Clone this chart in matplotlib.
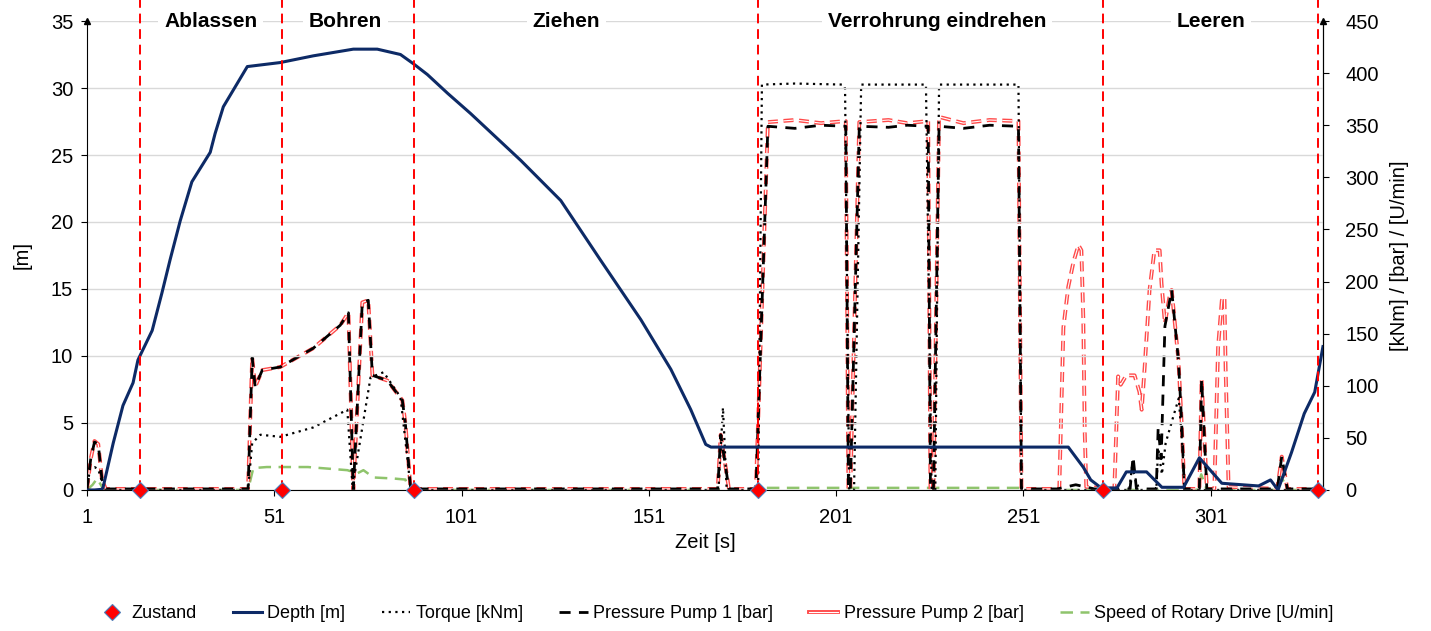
import matplotlib
matplotlib.use("Agg")
import matplotlib.pyplot as plt
import matplotlib.patheffects as pe
from matplotlib.lines import Line2D
import matplotlib.transforms as mtransforms

# --- data ---
phases = ["Ablassen", "Bohren", "Ziehen", "Verrohrung eindrehen", "Leeren"]
zustand_t = [15.2, 53.1, 88.4, 180.1, 272.4, 329.6]

depth_t = [1, 3, 5, 5.3, 8, 10.6, 13.3, 14.6, 18.4, 21, 23.2, 25.9, 29, 33.9, 35.2, 37.4,
           40.6, 43.8, 52.6, 61.4, 72.1, 78.5, 84.7, 88.2, 91.9, 97.3, 103.4, 116.8, 127.5,
           138, 148.9, 156.9, 162.2, 166.2, 167.6, 263, 267, 269, 271.8, 276, 278.5, 283.9,
           288, 293.8, 298, 304, 313.8, 317, 319, 322.6, 326, 328.8, 331]
depth_m = [0, 0, 0.05, 0.2, 3.5, 6.3, 8.0, 9.7, 11.9, 14.7, 17.2, 20.1, 23.0, 25.2, 26.6, 28.6,
           30.1, 31.6, 31.9, 32.4, 32.9, 32.9, 32.5, 31.8, 31.0, 29.6, 28.1, 24.6, 21.6,
           17.2, 12.7, 9.0, 6.0, 3.4, 3.2, 3.2, 1.7, 0.75, 0.15, 0.15, 1.35, 1.35,
           0.2, 0.2, 2.4, 0.5, 0.3, 0.75, 0, 2.8, 5.7, 7.3, 10.7]

torque_t = [1, 1.8, 3, 4, 5, 6, 44, 45.1, 47.3, 52.6, 61.4, 70.5, 71.9, 76.7, 80.2, 84.7,
            86.8, 87.4, 169.6, 170.8, 171.8, 180.2, 181.2, 190, 202.9, 203.4, 204.5, 205.8,
            207.7, 225, 226.5, 227.5, 228.5, 249.7, 250.5, 279.3, 280, 281, 282, 286.5, 287,
            288, 289, 291, 292.5, 293.5, 294, 331]
torque = [0, 21, 22, 20, 8, 0, 0, 45, 53, 51, 60, 77, 3, 108, 113, 89,
          22, 0, 0, 79, 0, 0, 389, 390, 389, 385, 0, 0,
          389, 389, 0, 0, 389, 389, 0, 0, 22, 10, 0, 0, 40,
          15, 45, 70, 88, 40, 0, 0]

pump1_t = [1, 2, 3, 4, 5, 6, 44, 45.1, 45.9, 47.8, 52.6, 61.4, 68.6, 70.8, 72.1, 74.5, 76.1,
           77.2, 81.2, 85.2, 86, 87.4, 169.4, 170.2, 172.4, 179.6, 182.8, 190, 197, 203.6,
           204.3, 204.8, 207.2, 215, 220, 225.6, 226.2, 227, 228.5, 235, 242, 249.7, 250.5,
           260, 265, 270, 279.5, 280.3, 281.2, 286.5, 287, 287.8, 288.8, 290.6, 292.4, 293.2,
           294, 298, 298.6, 300, 318.8, 320, 321.5, 331]
pump1 = [1, 30, 46, 44, 10, 1, 1, 127, 99, 115, 118, 136, 158, 170, 0, 180, 182,
         110, 105, 86, 64, 1, 1, 53, 1, 1, 349, 347, 350, 349,
         0, 0, 349, 348, 350, 349, 0, 0, 349, 347, 350, 349, 1,
         1, 5, 1, 1, 32, 1, 1, 60, 30, 157, 192, 125, 70,
         1, 1, 106, 1, 1, 32, 1, 1]

pump2_t = [1, 2, 3, 4, 5, 6, 44, 45.1, 45.9, 47.8, 52.6, 61.4, 68.6, 70.8, 72.1, 74.5, 76.1,
           77.2, 81.2, 85.2, 86, 87.4, 169.4, 170.2, 172.4, 179.6, 182.8, 190, 197, 203.6,
           204.3, 204.8, 207.2, 215, 220, 225.6, 226.2, 227, 228.5, 235, 242, 249.7, 250.5,
           260.6, 261.7, 263, 264.4, 265.7, 266.5, 267, 267.4, 267.8, 275.3, 276.3, 277,
           278.5, 280.7, 282, 282.6, 283.4, 284.7, 286, 287.4, 287.9, 288.8, 290, 290.6,
           292.4, 293.2, 294, 298, 298.6, 300, 302, 303, 304, 304.7, 305, 305.8, 318.8,
           320, 321.5, 331]
pump2 = [1, 30, 47, 44, 10, 1, 1, 127, 99, 115, 118, 136, 158, 170, 0, 180, 182,
         110, 105, 86, 64, 1, 1, 53, 1, 1, 353, 355, 352, 354,
         0, 0, 353, 355, 352, 354, 0, 0, 358, 352, 355, 354, 1,
         1, 156, 195, 219, 235, 230, 166, 55, 3, 1, 109, 101,
         110, 110, 94, 77, 118, 192, 230, 230, 198, 160, 185, 192,
         125, 70, 1, 1, 106, 1, 1, 137, 182, 185, 118, 3, 1,
         32, 1, 1]

speed_t = [1, 2.5, 3.7, 5, 6, 44, 45.4, 49, 60, 70.5, 73.2, 74.8, 77.5, 82.8, 86, 87, 88,
           180, 181, 250, 251, 297.5, 298.5, 300, 319, 320, 321.5, 331]
speed = [0, 5, 11, 3, 0, 0, 21, 22, 22, 19, 16, 19, 12, 11, 10, 0, 0,
         0, 2, 2, 0, 0, 15, 0, 0, 12, 0, 0]

x_ticks = [1, 51, 101, 151, 201, 251, 301]
label_x = [34, 70, 129, 228, 301]

plt.rcParams['font.family'] = ['Liberation Sans', 'DejaVu Sans']

fig = plt.figure(figsize=(14.31, 6.31), dpi=100)
ax = fig.add_axes([0.0608, 0.2235, 0.8637, 0.7432])
ax2 = ax.twinx()

ax.set_xlim(1, 331)
ax.set_ylim(0, 35)
ax2.set_ylim(0, 450)
ax.set_yticks(range(0, 36, 5))
ax2.set_yticks(range(0, 451, 50))
ax.set_xticks(x_ticks)
ax.grid(axis='y', color='#d9d9d9', lw=1)
ax.set_axisbelow(True)

for a in (ax, ax2):
    a.spines['top'].set_visible(False)
    a.tick_params(labelsize=14.5, length=4, pad=6)
ax2.spines['left'].set_visible(False)
ax2.spines['bottom'].set_visible(False)
ax.tick_params(axis='x', pad=9)
ax2.tick_params(axis='y', pad=12)

red2 = '#ff4a4a'
# right-axis series
ax2.plot(speed_t, speed, color='#8fc46c', lw=1.8, ls=(0, (5, 3)), zorder=2)
ax2.plot(pump2_t, pump2, color='white', lw=0.8, ls=(0, (9, 5)), zorder=3,
         path_effects=[pe.Stroke(linewidth=2.8, foreground=red2), pe.Normal()])
ax2.plot(pump1_t, pump1, color='black', lw=2, ls=(0, (4, 3)), zorder=4)
ax2.plot(torque_t, torque, color='black', lw=1.6, ls=(0, (1, 2)), zorder=4)

# depth on left axis, drawn over the right-axis lines
ax.set_zorder(ax2.get_zorder() + 1)
ax.patch.set_visible(False)
ax.plot(depth_t, depth_m, color='#0d2a66', lw=2.2, zorder=3)

# phase boundaries
trans = mtransforms.blended_transform_factory(ax.transData, ax.transAxes)
for t in zustand_t:
    ax.plot([t, t], [0, 1.045], transform=trans, color='red', lw=1.4,
            ls=(0, (5, 3)), clip_on=False, zorder=5)
ax.plot(zustand_t, [0] * len(zustand_t), ls='none', marker='D', ms=8,
        mfc='red', mec='#4a7ebb', mew=0.8, clip_on=False, zorder=6)

for lx, name in zip(label_x, phases):
    ax.text(lx, 35, name, ha='center', va='center', fontsize=15, fontweight='bold',
            bbox=dict(facecolor='white', edgecolor='none', pad=4), zorder=6)

# small arrowheads on top of the vertical axes
ax.plot([0], [1], marker='^', ms=5, color='black', transform=ax.transAxes, clip_on=False)
ax.plot([1], [1], marker='^', ms=5, color='black', transform=ax.transAxes, clip_on=False)

ax.set_xlabel("Zeit [s]", fontsize=14.5, labelpad=4)
ax.set_ylabel("[m]", fontsize=14.5, labelpad=14)
ax2.set_ylabel("[kNm] / [bar] / [U/min]", fontsize=14.5, labelpad=8)

handles = [
    Line2D([], [], ls='none', marker='D', ms=8, mfc='red', mec='#4a7ebb', mew=0.8),
    Line2D([], [], color='#0d2a66', lw=2.2),
    Line2D([], [], color='black', lw=1.6, ls=(0, (1, 2))),
    Line2D([], [], color='black', lw=2, ls=(0, (4, 3))),
    Line2D([], [], color='white', lw=0.8,
           path_effects=[pe.Stroke(linewidth=2.8, foreground=red2), pe.Normal()]),
    Line2D([], [], color='#8fc46c', lw=1.8, ls=(0, (5, 3))),
]
labels = ["Zustand", "Depth [m]", "Torque [kNm]", "Pressure Pump 1 [bar]",
          "Pressure Pump 2 [bar]", "Speed of Rotary Drive [U/min]"]
fig.legend(handles, labels, loc='center', bbox_to_anchor=(0.5, 0.028), ncol=6,
           frameon=False, fontsize=13, handlelength=1.6, columnspacing=2.0,
           handletextpad=0.3)

fig.savefig("out.png", dpi=100)
